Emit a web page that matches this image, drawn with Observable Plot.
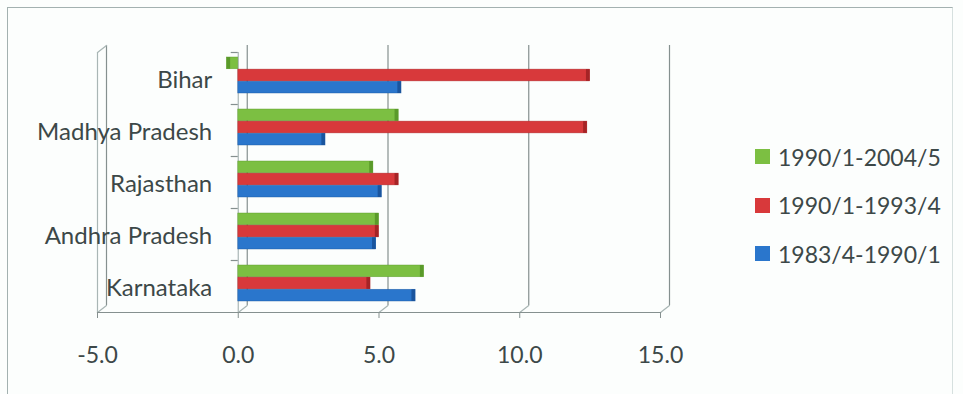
<!DOCTYPE html>
<html>
<head>
<meta charset="utf-8">
<script src="https://cdn.jsdelivr.net/npm/d3@7"></script>
<script src="https://cdn.jsdelivr.net/npm/@observablehq/plot@0.6"></script>
<style>
  html, body { margin: 0; padding: 0; background: #fcfefd; }
  #wrap { position: relative; width: 963px; height: 394px; overflow: hidden; font-family: Lato, "Open Sans", sans-serif; }
  #border { position: absolute; left: 7px; top: 7px; width: 946px; height: 400px; border: 1px solid #a3b1b0; border-right-color: #d6e0df; box-sizing: border-box; }
  #chart { position: absolute; left: 0; top: 0; }
  #legend { position: absolute; left: 755px; top: 148px; }
  .item { display: flex; align-items: center; height: 17px; margin-bottom: 31.5px; color: #3c4848; font-size: 23px; }
  .sw { width: 15px; height: 15px; margin-right: 8px; flex: none; }
</style>
</head>
<body>
<div id="wrap">
  <div id="border"></div>
  <div id="chart"></div>
  <div id="legend"></div>
</div>
<script>
// Growth rates by state for three periods
const states = ["Bihar", "Madhya Pradesh", "Rajasthan", "Andhra Pradesh", "Karnataka"];
const series = ["1990/1-2004/5", "1990/1-1993/4", "1983/4-1990/1"];
const growth1990to2005 = [-0.4, 5.7, 4.8, 5.0, 6.6];
const growth1990to1994 = [12.5, 12.4, 5.7, 5.0, 4.7];
const growth1984to1990 = [5.8, 3.1, 5.1, 4.9, 6.3];
const xTicks = [-5, 0, 5, 10, 15];

const colors = ["#7cbf42", "#d8393b", "#2a76cc"];
const darker = ["#5a9a2a", "#a52426", "#1a559e"];

const valuesBySeries = [growth1990to2005, growth1990to1994, growth1984to1990];
const rows = [];
series.forEach((s, i) => {
  states.forEach((st, j) => rows.push({state: st, series: s, idx: i, value: valuesBySeries[i][j]}));
});

// layout of the category bands
const marginTop = 52, marginBottom = 82, height = 394;
const step = (height - marginTop - marginBottom) / states.length;
const band = step * 0.7;
const third = band / 3;

const gridColor = "#85908f";
const wallColor = "#a9b6b5";

function barsFor(i) {
  const data = rows.filter(d => d.idx === i);
  const insets = {insetTop: third * i, insetBottom: third * (2 - i)};
  return [
    Plot.barX(data, {y: "state", x1: 0, x2: "value", fill: colors[i], stroke: darker[i], strokeWidth: 0.6, strokeOpacity: 0.7, dy: -3, ...insets}),
    // darker end face of each bar
    Plot.barX(data, {y: "state", x1: d => d.value - Math.sign(d.value) * 0.13, x2: "value", fill: darker[i], dy: -3, ...insets})
  ];
}

const chart = Plot.plot({
  width: 963,
  height,
  marginLeft: 97,
  marginRight: 303,
  marginTop,
  marginBottom,
  style: {background: "transparent", fontFamily: "Lato, 'Open Sans', sans-serif"},
  x: {domain: [-5, 15]},
  y: {domain: states, paddingInner: 0.3, paddingOuter: 0.15, axis: null},
  marks: [
    // back wall gridlines
    Plot.ruleX(xTicks, {stroke: gridColor, strokeWidth: 1.2, dx: 9, dy: -7}),
    // side wall front edge
    Plot.ruleX([-5], {stroke: wallColor, strokeWidth: 1.2}),
    // floor / wall depth edges
    Plot.vector(xTicks, {x: d => d, frameAnchor: "bottom", length: 11.4, rotate: 52, anchor: "start", shape: "spike", r: 0, stroke: wallColor, strokeWidth: 1.2}),
    Plot.vector([-5], {x: d => d, frameAnchor: "top", length: 11.4, rotate: 52, anchor: "start", shape: "spike", r: 0, stroke: wallColor, strokeWidth: 1.2}),
    // front floor edge
    Plot.frame({anchor: "bottom", stroke: gridColor, strokeWidth: 1.2}),
    // category axis with ticks between groups
    Plot.ruleX([0], {stroke: wallColor, strokeWidth: 1.2}),
    Plot.ruleY(states, {y: d => d, x1: -0.25, x2: 0, dy: -step / 2, stroke: gridColor, strokeWidth: 1.2}),
    ...barsFor(0),
    ...barsFor(1),
    ...barsFor(2),
    Plot.axisX({ticks: xTicks, tickFormat: d => d.toFixed(1), tickSize: 6, tickPadding: 28, fontSize: 23, stroke: gridColor, fill: "#3c4848", label: null}),
    Plot.text(states, {y: d => d, x: 0, text: d => d, textAnchor: "end", dx: -26, dy: 2, fontSize: 24, fill: "#3c4848"})
  ]
});
document.getElementById("chart").appendChild(chart);

// legend
const legend = document.getElementById("legend");
series.forEach((s, i) => {
  const item = document.createElement("div");
  item.className = "item";
  item.innerHTML = `<span class="sw" style="background:${colors[i]}"></span><span>${s}</span>`;
  legend.appendChild(item);
});
</script>
</body>
</html>
